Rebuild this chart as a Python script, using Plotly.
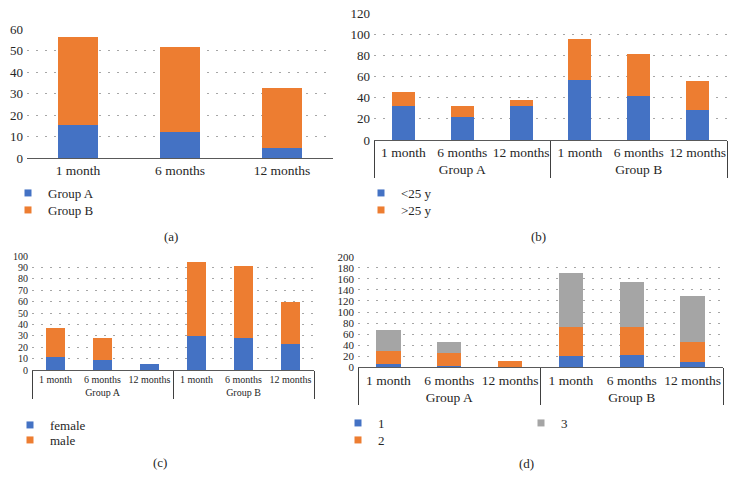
import plotly.graph_objects as go

# ---------------- data ----------------
months = ["1 month", "6 months", "12 months"]
groups = ["Group A", "Group B"]

# (a)
a_group_a = [15.5, 12, 4.5]
a_group_b = [41, 39.5, 28]
# (b)
b_under25 = [32, 21.5, 32, 57, 42, 28]
b_over25 = [13, 11, 6, 39, 39.5, 28]
# (c)
c_female = [11.5, 9, 5.5, 30, 28, 23]
c_male = [25.5, 19.5, 0, 64.5, 63.5, 37]
# (d)
d_1 = [6, 3, 0, 21, 22, 10]
d_2 = [23, 23, 12, 51, 50, 36]
d_3 = [39, 20, 0, 99, 83, 83]

captions = ["(a)", "(b)", "(c)", "(d)"]

# ---------------- style ----------------
BLUE = "#4472C4"
ORANGE = "#ED7D31"
GRAY = "#A5A5A5"
FONT = "Liberation Serif"
TXT = "#262626"
W, H = 735, 489

multi_x = [[g for g in groups for _ in months], months * len(groups)]


def px_x(p):
    return p / W


def px_y(p):
    return 1 - p / H


fig = go.Figure()


def add_bars(xs, ys, color, xa, ya, bw):
    fig.add_trace(go.Bar(x=xs, y=ys, marker=dict(color=color, line=dict(width=0)),
                         xaxis=xa, yaxis=ya, width=bw, showlegend=False))


legend_layouts = {}
legend_common = dict(xanchor="left", yanchor="top", bgcolor="rgba(0,0,0,0)",
                     traceorder="normal", tracegroupgap=0, itemclick=False,
                     font=dict(family=FONT, size=13, color=TXT))


def add_legend_item(name, color, xs, xa, ya, lx, ly):
    idx = len(legend_layouts) + 1
    key = "legend" if idx == 1 else f"legend{idx}"
    legend_layouts[key] = dict(x=px_x(lx), y=px_y(ly), **legend_common)
    fig.add_trace(go.Scatter(x=xs, y=[None], mode="markers", name=name, legend=key,
                             marker=dict(symbol="square", size=7, color=color),
                             xaxis=xa, yaxis=ya, hoverinfo="skip"))


first_multi = [[groups[0]], [months[0]]]

# (a)
add_bars(months, a_group_a, BLUE, "x", "y", 0.39)
add_bars(months, a_group_b, ORANGE, "x", "y", 0.39)
add_legend_item("Group A", BLUE, [months[0]], "x", "y", 8, 178)
add_legend_item("Group B", ORANGE, [months[0]], "x", "y", 8, 195)

# (b)
add_bars(multi_x, b_under25, BLUE, "x2", "y2", 0.39)
add_bars(multi_x, b_over25, ORANGE, "x2", "y2", 0.39)
add_legend_item("<25 y", BLUE, first_multi, "x2", "y2", 361, 178)
add_legend_item(">25 y", ORANGE, first_multi, "x2", "y2", 361, 195)

# (c)
add_bars(multi_x, c_female, BLUE, "x3", "y3", 0.39)
add_bars(multi_x, c_male, ORANGE, "x3", "y3", 0.39)
add_legend_item("female", BLUE, first_multi, "x3", "y3", 10, 410)
add_legend_item("male", ORANGE, first_multi, "x3", "y3", 10, 425)

# (d)
add_bars(multi_x, d_1, BLUE, "x4", "y4", 0.4)
add_bars(multi_x, d_2, ORANGE, "x4", "y4", 0.4)
add_bars(multi_x, d_3, GRAY, "x4", "y4", 0.4)
add_legend_item("1", BLUE, first_multi, "x4", "y4", 338, 408)
add_legend_item("2", ORANGE, first_multi, "x4", "y4", 338, 425)
add_legend_item("3", GRAY, first_multi, "x4", "y4", 521, 408)

GRID = dict(showgrid=True, gridcolor="#A6A6A6", gridwidth=1, griddash="2px,7px",
            zeroline=False, showline=False, ticks="", automargin=False)


def xaxis(dom, anchor, ticksize, multi):
    d = dict(domain=dom, anchor=anchor, showline=True, linecolor="#595959", linewidth=1,
             showgrid=False, zeroline=False, ticks="", tickangle=0, automargin=False,
             tickfont=dict(family=FONT, size=ticksize, color=TXT))
    if multi:
        d.update(type="multicategory", showdividers=True, dividercolor="#404040", dividerwidth=1)
    else:
        d.update(type="category")
    return d


def yaxis(dom, anchor, rng, dt, ticksize):
    d = dict(domain=dom, anchor=anchor, range=rng, dtick=dt,
             tickfont=dict(family=FONT, size=ticksize, color=TXT),
             ticklabelstandoff=3)
    d.update(GRID)
    return d


fig.update_layout(
    width=W, height=H,
    margin=dict(l=0, r=0, t=0, b=0, autoexpand=False),
    paper_bgcolor="white", plot_bgcolor="white",
    barmode="stack",
    xaxis=xaxis([px_x(27), px_x(333)], "y", 13.5, False),
    yaxis=yaxis([px_y(158), px_y(29)], "x", [0, 60], 10, 13),
    xaxis2=xaxis([px_x(374), px_x(727)], "y2", 13.5, True),
    yaxis2=yaxis([px_y(140), px_y(13.3)], "x2", [0, 120], 20, 13),
    xaxis3=xaxis([px_x(32), px_x(314)], "y3", 10, True),
    yaxis3=yaxis([px_y(370), px_y(256)], "x3", [0, 100], 10, 10),
    xaxis4=xaxis([px_x(358), px_x(723)], "y4", 13.5, True),
    yaxis4=yaxis([px_y(367.3), px_y(256.7)], "x4", [0, 200], 20, 11),
    **legend_layouts,
)

cap_pos = [(171, 236), (538, 236), (160, 462), (526, 463)]
for txt, (cx, cy) in zip(captions, cap_pos):
    fig.add_annotation(text=txt, x=px_x(cx), y=px_y(cy), xref="paper", yref="paper",
                       xanchor="center", yanchor="middle", showarrow=False,
                       font=dict(family=FONT, size=13, color=TXT))

fig.write_html("out.html", config={"displayModeBar": False},
               post_script="document.body.style.margin='0px';")
